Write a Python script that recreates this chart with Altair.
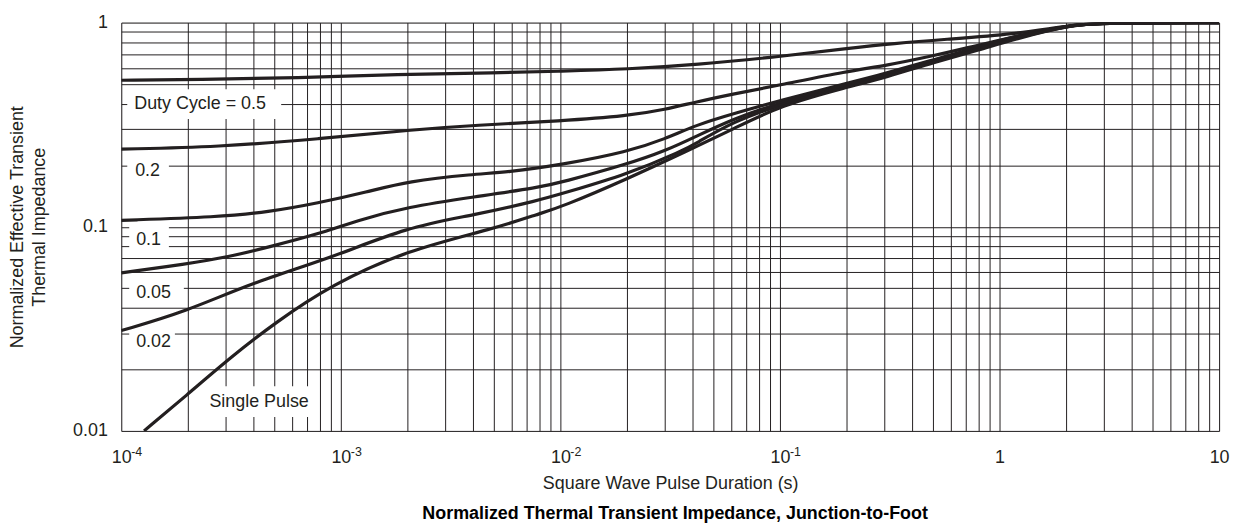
import altair as alt
import pandas as pd

# ---- curve data (pulse duration in s, normalized Zth) ----
t_d05 = [1.0e-4, 2.25e-4, 6.38e-4, 1.81e-3, 5.13e-3, 1.01e-2, 2.03e-2, 4.12e-2, 0.102, 0.203, 0.331, 0.558, 1.156, 2.16, 2.96, 10]
z_d05 = [0.522, 0.526, 0.536, 0.558, 0.567, 0.578, 0.592, 0.621, 0.683, 0.747, 0.790, 0.827, 0.874, 0.978, 0.994, 1.0]

t_d02 = [1.0e-4, 2.77e-4, 7.86e-4, 2.23e-3, 4.04e-3, 1.01e-2, 2.03e-2, 3.02e-2, 4.12e-2, 6.07e-2, 0.102, 0.203, 0.305, 0.502, 0.710, 1.156, 2.16, 2.96, 10]
z_d02 = [0.240, 0.246, 0.269, 0.300, 0.314, 0.330, 0.349, 0.376, 0.408, 0.446, 0.497, 0.578, 0.616, 0.689, 0.750, 0.855, 0.978, 0.994, 1.0]

t_d01 = [1.0e-4, 2.77e-4, 4.67e-4, 7.86e-4, 1.32e-3, 2.01e-3, 4.04e-3, 5.70e-3, 1.01e-2, 2.03e-2, 3.02e-2, 4.12e-2, 6.07e-2, 0.102, 0.203, 0.305, 0.502, 0.821, 1.156, 2.16, 2.96, 10]
z_d01 = [0.1075, 0.1116, 0.118, 0.1305, 0.148, 0.167, 0.181, 0.185, 0.201, 0.233, 0.270, 0.314, 0.357, 0.417, 0.505, 0.565, 0.658, 0.764, 0.855, 0.978, 0.994, 1.0]

t_d005 = [1.0e-4, 1.97e-4, 3.08e-4, 4.67e-4, 7.86e-4, 1.19e-3, 2.01e-3, 4.04e-3, 8.04e-3, 1.01e-2, 2.03e-2, 3.02e-2, 4.12e-2, 6.07e-2, 0.102, 0.203, 0.305, 0.502, 0.821, 1.156, 2.16, 2.96, 10]
z_d005 = [0.0594, 0.0657, 0.0711, 0.0795, 0.0919, 0.1075, 0.125, 0.140, 0.156, 0.165, 0.203, 0.236, 0.276, 0.337, 0.408, 0.499, 0.558, 0.653, 0.756, 0.845, 0.978, 0.994, 1.0]

t_d002 = [1.0e-4, 1.97e-4, 3.92e-4, 9.01e-4, 2.01e-3, 4.04e-3, 8.04e-3, 1.01e-2, 2.03e-2, 3.61e-2, 4.12e-2, 6.07e-2, 0.102, 0.203, 0.305, 0.502, 0.821, 1.156, 2.16, 2.96, 10]
z_d002 = [0.031, 0.0384, 0.0531, 0.0703, 0.0998, 0.114, 0.135, 0.145, 0.181, 0.236, 0.255, 0.326, 0.399, 0.494, 0.546, 0.646, 0.747, 0.836, 0.978, 0.994, 1.0]

t_single = [1.27e-4, 1.97e-4, 3.19e-4, 5.01e-4, 9.04e-4, 2.01e-3, 5.02e-3, 8.04e-3, 1.01e-2, 2.03e-2, 3.80e-2, 6.07e-2, 0.102, 0.203, 0.305, 0.502, 0.821, 1.156, 2.16, 2.96, 10]
z_single = [0.01, 0.01485, 0.0232, 0.0338, 0.0519, 0.0769, 0.098, 0.116, 0.125, 0.172, 0.236, 0.300, 0.395, 0.483, 0.540, 0.639, 0.739, 0.827, 0.978, 0.994, 1.0]

series = [
    ("0.5", t_d05, z_d05),
    ("0.2", t_d02, z_d02),
    ("0.1", t_d01, z_d01),
    ("0.05", t_d005, z_d005),
    ("0.02", t_d002, z_d002),
    ("Single Pulse", t_single, z_single),
]

# ---- curve labels (text, anchor t, anchor z) and their white boxes ----
label_text = ["Duty Cycle = 0.5", "0.2", "0.1", "0.05", "0.02", "Single Pulse"]
label_t = [1.146e-4, 1.157e-4, 1.169e-4, 1.169e-4, 1.169e-4, 2.52e-4]
label_z = [0.399, 0.188, 0.086, 0.0476, 0.0272, 0.01389]
box_t1 = [1.065e-4, 1.065e-4, 1.087e-4, 1.087e-4, 1.087e-4, 2.254e-4]
box_t2 = [5.35e-4, 1.648e-4, 1.648e-4, 1.928e-4, 1.755e-4, 7.71e-4]
box_z1 = [0.472, 0.2154, 0.1006, 0.0543, 0.0307, 0.01656]
box_z2 = [0.337, 0.1646, 0.0769, 0.0420, 0.02424, 0.0117]

# ---- axis ticks ----
x_grid = [m * 10.0 ** e for e in range(-4, 1) for m in range(1, 10)] + [10.0]
y_grid = [m * 10.0 ** e for e in range(-2, 0) for m in range(1, 10)] + [1.0]
x_major = [1e-4, 1e-3, 1e-2, 1e-1, 1.0, 10.0]
x_major_labels = ["10", "10", "10", "10", "1", "10"]
x_exp_t = [1e-4, 1e-3, 1e-2, 1e-1]
x_exp_text = ["-4", "-3", "-2", "-1"]
y_major = [0.01, 0.1, 1.0]
y_major_labels = ["0.01", "0.1", "1"]


def label_expr(values, labels):
    parts = [f"abs(datum.value - {v!r}) < {v * 1e-3!r} ? '{lab}' : " for v, lab in zip(values, labels)]
    return "".join(parts) + "''"


rows = []
for name, ts, zs in series:
    for i, (t, z) in enumerate(zip(ts, zs)):
        rows.append({"series": name, "t": t, "z": z, "order": i})
curves = pd.DataFrame(rows)
labels = pd.DataFrame({"text": label_text, "t": label_t, "z": label_z})
boxes = pd.DataFrame({"t": box_t1, "t2": box_t2, "z": box_z1, "z2": box_z2})
exps = pd.DataFrame({"text": x_exp_text, "t": x_exp_t, "z": [0.01] * len(x_exp_t)})

INK = "#231f20"
FONT = "Liberation Sans"

x_scale = alt.Scale(type="log", domain=[1e-4, 10], nice=False)
y_scale = alt.Scale(type="log", domain=[0.01, 1], nice=False)

x_axis = alt.Axis(
    values=x_grid, labelExpr=label_expr(x_major, x_major_labels),
    grid=True, gridColor=INK, gridWidth=1, gridOpacity=1,
    ticks=False, tickSize=0, domain=False,
    labelFontSize=18, labelFont=FONT, labelColor=INK, labelPadding=18,
    labelOverlap=False, labelFlush=False, labelBound=False,
    title="Square Wave Pulse Duration (s)", titleFontSize=18, titleFont=FONT,
    titleFontWeight="normal", titleColor=INK, titleY=44, titleBaseline="top",
)
y_axis = alt.Axis(
    values=y_grid, labelExpr=label_expr(y_major, y_major_labels),
    grid=True, gridColor=INK, gridWidth=1, gridOpacity=1,
    ticks=False, tickSize=0, domain=False,
    labelFontSize=18, labelFont=FONT, labelColor=INK, labelPadding=14,
    labelOverlap=False, labelFlush=False, labelBound=False,
    title=["Normalized Effective Transient", "Thermal Impedance"],
    titleFontSize=18, titleFont=FONT, titleFontWeight="normal", titleColor=INK,
    titleX=-95, titleY=205.5, titleAlign="center", titleBaseline="bottom",
    titleLineHeight=21.5,
)


def xenc():
    return alt.X("t:Q", scale=x_scale, axis=x_axis)


def yenc():
    return alt.Y("z:Q", scale=y_scale, axis=y_axis)


box_layer = alt.Chart(boxes).mark_rect(fill="white", stroke=None, clip=True).encode(
    x=xenc(), x2="t2:Q", y=yenc(), y2="z2:Q"
)

line_layer = alt.Chart(curves).mark_line(
    color=INK, strokeWidth=3.2, interpolate="basis", clip=True
).encode(x=xenc(), y=yenc(), detail="series:N", order="order:Q")

text_layer = alt.Chart(labels).mark_text(
    align="left", baseline="middle", font=FONT, fontSize=18, color=INK
).encode(x=xenc(), y=yenc(), text="text:N")

exp_layer = alt.Chart(exps).mark_text(
    align="left", baseline="middle", font=FONT, fontSize=12.5, color=INK, dx=10, dy=21
).encode(x=xenc(), y=yenc(), text="text:N")

chart = alt.layer(box_layer, line_layer, text_layer, exp_layer).properties(
    width=1105,
    height=411,
    autosize=alt.AutoSizeParams(type="none"),
    padding={"left": 114, "top": 13, "right": 13, "bottom": 91},
    title=alt.TitleParams(
        text="Normalized Thermal Transient Impedance, Junction-to-Foot",
        orient="bottom", anchor="middle", frame="group",
        fontSize=18, fontWeight="bold", font=FONT, color="black", offset=13, dx=5,
    ),
).configure_view(stroke=INK, strokeWidth=2.5).configure(background="white")

chart.save("out.html", embed_options={"renderer": "svg", "actions": False})
